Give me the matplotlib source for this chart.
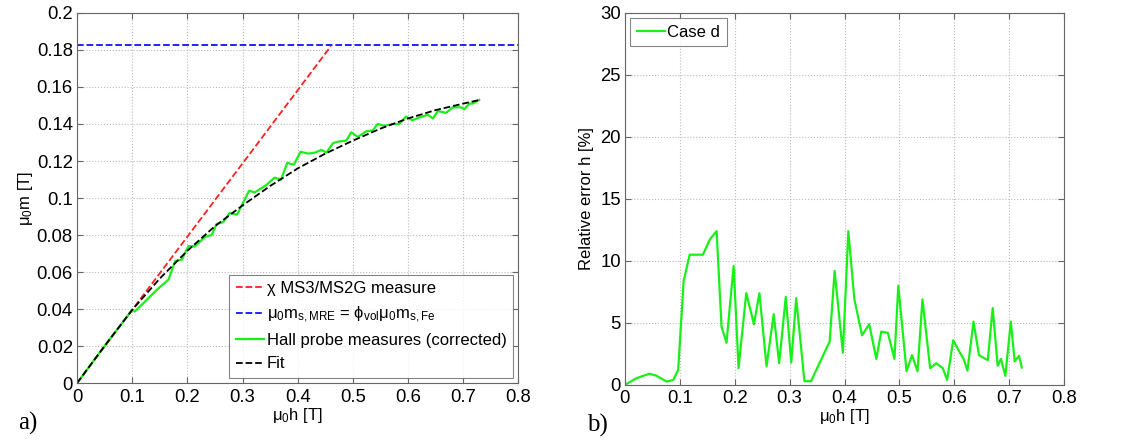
import matplotlib
matplotlib.use("Agg")
import matplotlib.pyplot as plt

plt.rcParams['font.family'] = ['Liberation Sans', 'DejaVu Sans']
plt.rcParams['mathtext.fontset'] = 'custom'
plt.rcParams['mathtext.rm'] = 'Liberation Sans'
plt.rcParams['mathtext.it'] = 'Liberation Sans'
plt.rcParams['font.size'] = 12

# ---------- datos panel a) ----------
chi_h = [0.0, 0.46]
chi_m = [0.0, 0.182]
ms_mre = 0.1825

fit_h = [0.0, 0.05, 0.1, 0.15, 0.2, 0.25, 0.3, 0.35, 0.4, 0.45, 0.5, 0.55, 0.6, 0.65, 0.7, 0.73]
fit_m = [0.0, 0.0201, 0.0396, 0.0565, 0.0715, 0.0848, 0.0960, 0.1065, 0.1160, 0.1240, 0.1310, 0.1375, 0.1430, 0.1475, 0.1510, 0.1530]

hall_h = [0.0, 0.05, 0.1, 0.105, 0.145, 0.166, 0.178, 0.19, 0.202, 0.214, 0.232, 0.244, 0.253,
          0.265, 0.277, 0.29, 0.312, 0.322, 0.343, 0.358, 0.37, 0.381, 0.393, 0.405, 0.419,
          0.431, 0.443, 0.452, 0.464, 0.476, 0.488, 0.497, 0.509, 0.524, 0.536, 0.545, 0.557,
          0.572, 0.584, 0.596, 0.608, 0.62, 0.636, 0.645, 0.654, 0.669, 0.681, 0.696, 0.702,
          0.711, 0.717, 0.729]
hall_m = [0.0, 0.0201, 0.0396, 0.0387, 0.0505, 0.056, 0.066, 0.0667, 0.074, 0.074, 0.079, 0.080,
          0.086, 0.087, 0.092, 0.091, 0.104, 0.103, 0.107, 0.111, 0.110, 0.119, 0.118, 0.125,
          0.124, 0.1245, 0.126, 0.1245, 0.1297, 0.1306, 0.131, 0.1355, 0.133, 0.136, 0.1365,
          0.140, 0.139, 0.140, 0.140, 0.144, 0.142, 0.1435, 0.145, 0.143, 0.147, 0.146, 0.149,
          0.149, 0.148, 0.151, 0.151, 0.153]

# ---------- datos panel b) ----------
err_h = [0.0, 0.021, 0.033, 0.045, 0.058, 0.076, 0.088, 0.097, 0.107, 0.118, 0.142, 0.155,
         0.167, 0.176, 0.185, 0.198, 0.207, 0.221, 0.235, 0.245, 0.258, 0.271, 0.281, 0.293,
         0.303, 0.312, 0.327, 0.339, 0.373, 0.382, 0.397, 0.407, 0.418, 0.432, 0.445, 0.458,
         0.467, 0.479, 0.491, 0.498, 0.513, 0.523, 0.533, 0.542, 0.556, 0.567, 0.579, 0.587,
         0.598, 0.609, 0.617, 0.624, 0.635, 0.645, 0.661, 0.67, 0.679, 0.685, 0.693, 0.703,
         0.71, 0.718, 0.723]
err_pct = [0.0, 0.54, 0.73, 0.9, 0.73, 0.27, 0.4, 1.2, 8.4, 10.5, 10.5, 11.75, 12.4, 4.7, 3.4,
           9.6, 1.35, 7.4, 4.9, 7.4, 1.5, 5.7, 1.75, 7.1, 1.8, 7.0, 0.3, 0.3, 3.5, 9.2, 2.6,
           12.4, 6.9, 4.0, 4.9, 2.1, 4.3, 4.2, 2.1, 8.0, 1.1, 2.4, 1.1, 6.9, 1.35, 1.75, 1.35,
           0.4, 3.6, 2.7, 2.1, 1.15, 5.1, 2.4, 2.0, 6.2, 1.55, 2.1, 0.73, 5.1, 1.9, 2.35, 1.4]

verde = '#18f018'
gris_borde = '#666666'

fig = plt.figure(figsize=(11.26, 4.45), dpi=100)
ax1 = fig.add_axes([0.0684, 0.139, 0.392, 0.832])
ax2 = fig.add_axes([0.555, 0.135, 0.390, 0.836])


def estilo(ax):
    ax.grid(True, linestyle=':', color='#bbbbbb', linewidth=0.8)
    ax.tick_params(direction='in', top=True, right=True, length=4,
                   color=gris_borde, labelsize=13.3)
    ax.tick_params(axis='x', pad=4)
    ax.tick_params(axis='y', pad=3)
    for s in ax.spines.values():
        s.set_color(gris_borde)
        s.set_linewidth(0.8)


# ---------- panel a) ----------
ax1.plot(chi_h, chi_m, color='#ff2020', linestyle='--', linewidth=1.3,
         label='χ MS3/MS2G measure')
ax1.axhline(ms_mre, color='#1010ff', linestyle='--', linewidth=1.3,
            label='μ$_0$m$_{s,MRE}$ = ϕ$_{vol}$μ$_0$m$_{s,Fe}$')
ax1.plot(hall_h, hall_m, color=verde, linewidth=1.6,
         label='Hall probe measures (corrected)')
ax1.plot(fit_h, fit_m, color='black', linestyle='--', linewidth=1.3, label='Fit')
ax1.set_xlim(0, 0.8)
ax1.set_ylim(0, 0.2)
ax1.set_xticks([0, 0.1, 0.2, 0.3, 0.4, 0.5, 0.6, 0.7, 0.8])
ax1.set_xticklabels(['0', '0.1', '0.2', '0.3', '0.4', '0.5', '0.6', '0.7', '0.8'])
ax1.set_yticks([0, 0.02, 0.04, 0.06, 0.08, 0.1, 0.12, 0.14, 0.16, 0.18, 0.2])
ax1.set_yticklabels(['0', '0.02', '0.04', '0.06', '0.08', '0.1', '0.12', '0.14',
                     '0.16', '0.18', '0.2'])
ax1.set_xlabel('μ$_0$h [T]', fontsize=12, labelpad=0)
ax1.set_ylabel('μ$_0$m [T]', fontsize=12, labelpad=1)
estilo(ax1)
leg1 = ax1.legend(loc='lower right', fancybox=False, fontsize=12,
                  borderaxespad=0.3, handlelength=1.7, handletextpad=0.15,
                  labelspacing=0.5, borderpad=0.4)
leg1.get_frame().set_edgecolor(gris_borde)
leg1.get_frame().set_linewidth(0.8)

# ---------- panel b) ----------
ax2.plot(err_h, err_pct, color=verde, linewidth=1.6, label='Case d')
ax2.set_xlim(0, 0.8)
ax2.set_ylim(0, 30)
ax2.set_xticks([0, 0.1, 0.2, 0.3, 0.4, 0.5, 0.6, 0.7, 0.8])
ax2.set_xticklabels(['0', '0.1', '0.2', '0.3', '0.4', '0.5', '0.6', '0.7', '0.8'])
ax2.set_yticks([0, 5, 10, 15, 20, 25, 30])
ax2.set_xlabel('μ$_0$h [T]', fontsize=12, labelpad=0)
ax2.set_ylabel('Relative error h [%]', fontsize=12, labelpad=4)
estilo(ax2)
leg2 = ax2.legend(loc='upper left', fancybox=False, fontsize=12,
                  borderaxespad=0.3, handlelength=1.7, handletextpad=0.15,
                  borderpad=0.4)
leg2.get_frame().set_edgecolor(gris_borde)
leg2.get_frame().set_linewidth(0.8)

# etiquetas de panel
fig.text(0.016, 0.035, 'a)', fontsize=18, family='Liberation Serif')
fig.text(0.521, 0.030, 'b)', fontsize=18, family='Liberation Serif')

fig.savefig('out.png', dpi=100)
